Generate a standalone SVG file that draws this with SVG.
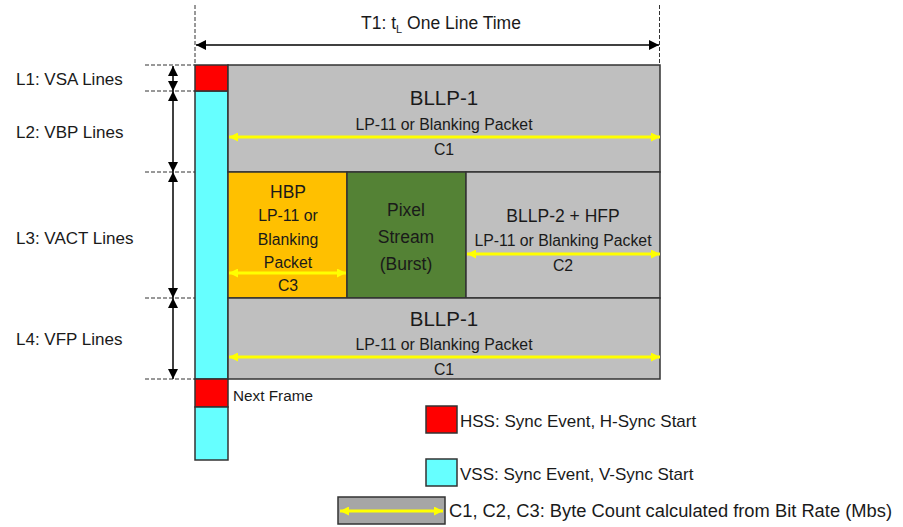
<svg xmlns="http://www.w3.org/2000/svg" width="903" height="527" viewBox="0 0 903 527">
<defs>
<marker id="ab" viewBox="0 0 10 10" refX="10" refY="5" markerWidth="10" markerHeight="10" markerUnits="userSpaceOnUse" orient="auto-start-reverse"><path d="M0,0 L10,5 L0,10 z" fill="#000"/></marker>
<marker id="ay" viewBox="0 0 10 10" refX="10" refY="5" markerWidth="9" markerHeight="9" markerUnits="userSpaceOnUse" orient="auto-start-reverse"><path d="M0,0 L10,5 L0,10 z" fill="#FFFF00"/></marker>
<style>
text{font-family:"Liberation Sans","Open Sans",sans-serif;fill:#1a1a1a}
.c{text-anchor:middle}
.box{stroke:#333;stroke-width:1.5}
.dash{stroke:#333;stroke-width:1;stroke-dasharray:4 2;fill:none}
.blk{stroke:#000;stroke-width:1.5;fill:none}
.yel{stroke:#FFFF00;stroke-width:3;fill:none}
.t15{font-size:17px}
.t14{font-size:15.8px}
.t20{font-size:20.5px}
.t17{font-size:17.5px}
</style>
</defs>
<rect width="903" height="527" fill="#fff"/>
<g id="sync-column">
<rect class="box" x="195" y="91" width="33" height="288" fill="#66FFFF"/>
<rect class="box" x="195" y="65" width="33" height="26" fill="#FF0000"/>
<rect class="box" x="195" y="379" width="33" height="28" fill="#FF0000"/>
<rect class="box" x="195" y="407" width="33" height="53" fill="#66FFFF"/>
<text x="233" y="401" font-size="15.3">Next Frame</text>
</g>
<g id="bllp1-top">
<rect class="box" x="228" y="65" width="432" height="107" fill="#BFBFBF"/>
<text class="c t20" x="444" y="105">BLLP-1</text>
<text class="c t14" x="444" y="130">LP-11 or Blanking Packet</text>
<text class="c t14" x="444" y="155">C1</text>
</g>
<g id="hbp">
<rect class="box" x="228" y="172" width="119" height="126" fill="#FFC000"/>
<text class="c t17" x="288" y="198">HBP</text>
<text class="c t14" x="288" y="221">LP-11 or</text>
<text class="c t14" x="288" y="245">Blanking</text>
<text class="c t14" x="288" y="268">Packet</text>
<text class="c t14" x="288" y="291">C3</text>
</g>
<g id="pixel-stream">
<rect class="box" x="347" y="172" width="119" height="126" fill="#548235"/>
<text class="c" x="406" y="216" font-size="17.5">Pixel</text>
<text class="c" x="406" y="243" font-size="17.5">Stream</text>
<text class="c" x="406" y="270" font-size="17.5">(Burst)</text>
</g>
<g id="bllp2-hfp">
<rect class="box" x="466" y="172" width="194" height="126" fill="#BFBFBF"/>
<text class="c t17" x="563" y="222">BLLP-2 + HFP</text>
<text class="c t14" x="563" y="246">LP-11 or Blanking Packet</text>
<text class="c t14" x="563" y="271">C2</text>
</g>
<g id="bllp1-bottom">
<rect class="box" x="228" y="298" width="432" height="81" fill="#BFBFBF"/>
<text class="c t20" x="444" y="326">BLLP-1</text>
<text class="c t14" x="444" y="350">LP-11 or Blanking Packet</text>
<text class="c t14" x="444" y="375">C1</text>
</g>
<g id="labels">
<text class="t15" x="16" y="85">L1: VSA Lines</text>
<text class="t15" x="16" y="138">L2: VBP Lines</text>
<text class="t15" x="16" y="244">L3: VACT Lines</text>
<text class="t15" x="16" y="345">L4: VFP Lines</text>
<text class="c" font-size="17.5" x="441" y="29">T1: t<tspan font-size="11" dy="4">L</tspan><tspan dy="-4"> One Line Time</tspan></text>
</g>
<g id="legend">
<rect class="box" x="426" y="406" width="31" height="27" fill="#FF0000"/>
<text x="460" y="427" font-size="17">HSS: Sync Event, H-Sync Start</text>
<rect class="box" x="426" y="459" width="31" height="27" fill="#66FFFF"/>
<text x="460" y="480" font-size="17">VSS: Sync Event, V-Sync Start</text>
<rect class="box" x="338" y="497" width="107" height="27" fill="#A6A6A6"/>
<text x="449" y="517" font-size="17.5" textLength="443" lengthAdjust="spacingAndGlyphs">C1, C2, C3: Byte Count calculated from Bit Rate (Mbs)</text>
</g>
<g id="connectors">
<line class="dash" x1="195" y1="5" x2="195" y2="65"/>
<line class="dash" x1="659.5" y1="5" x2="659.5" y2="65"/>
<line class="dash" x1="145" y1="65" x2="195" y2="65"/>
<line class="dash" x1="145" y1="91" x2="195" y2="91"/>
<line class="dash" x1="145" y1="172" x2="195" y2="172"/>
<line class="dash" x1="145" y1="298" x2="195" y2="298"/>
<line class="dash" x1="145" y1="379" x2="195" y2="379"/>
<line class="blk" x1="196" y1="45" x2="659" y2="45" marker-start="url(#ab)" marker-end="url(#ab)"/>
<line class="blk" x1="173" y1="66" x2="173" y2="91" marker-start="url(#ab)" marker-end="url(#ab)"/>
<line class="blk" x1="173" y1="91" x2="173" y2="172" marker-start="url(#ab)" marker-end="url(#ab)"/>
<line class="blk" x1="173" y1="172" x2="173" y2="298" marker-start="url(#ab)" marker-end="url(#ab)"/>
<line class="blk" x1="173" y1="298" x2="173" y2="379" marker-start="url(#ab)" marker-end="url(#ab)"/>
<line class="yel" x1="229" y1="137" x2="660" y2="137" marker-start="url(#ay)" marker-end="url(#ay)"/>
<line class="yel" x1="229" y1="273" x2="346" y2="273" marker-start="url(#ay)" marker-end="url(#ay)"/>
<line class="yel" x1="467" y1="254" x2="660" y2="254" marker-start="url(#ay)" marker-end="url(#ay)"/>
<line class="yel" x1="229" y1="357" x2="660" y2="357" marker-start="url(#ay)" marker-end="url(#ay)"/>
<line class="yel" x1="340" y1="511" x2="443" y2="511" marker-start="url(#ay)" marker-end="url(#ay)"/>
</g>
</svg>
